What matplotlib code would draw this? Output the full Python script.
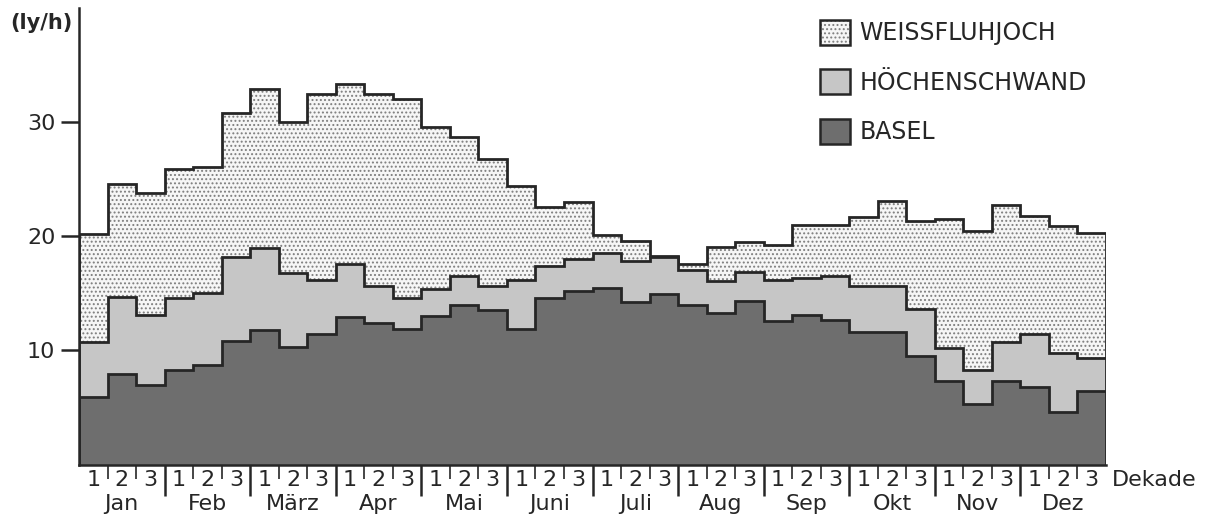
import numpy as np
import matplotlib.pyplot as plt
from matplotlib.patches import Patch

plt.rcParams['font.family'] = ['DejaVu Sans']
plt.rcParams['hatch.linewidth'] = 0.9

# mean irradiance per dekade (ly/h), three dekades per month
months = ['Jan', 'Feb', 'März', 'Apr', 'Mai', 'Juni',
          'Juli', 'Aug', 'Sep', 'Okt', 'Nov', 'Dez']
dekade_labels = ['1', '2', '3']

weissfluhjoch = [20.2, 24.6, 23.8, 25.9, 26.1, 30.8, 32.9, 30.0, 32.5, 33.3, 32.5, 32.0,
                 29.6, 28.7, 26.8, 24.4, 22.6, 23.0, 20.1, 19.6, 18.3, 17.6, 19.1, 19.5,
                 19.2, 21.0, 21.0, 21.7, 23.1, 21.3, 21.5, 20.5, 22.7, 21.8, 20.9, 20.3]
hoechenschwand = [10.7, 14.7, 13.1, 14.6, 15.0, 18.2, 19.0, 16.8, 16.2, 17.6, 15.6, 14.6,
                  15.4, 16.5, 15.6, 16.2, 17.4, 18.0, 18.5, 17.8, 18.2, 17.0, 16.1, 16.9,
                  16.2, 16.3, 16.5, 15.6, 15.6, 13.6, 10.2, 8.3, 10.7, 11.4, 9.8, 9.3]
basel = [5.9, 7.9, 7.0, 8.3, 8.7, 10.8, 11.8, 10.3, 11.4, 12.9, 12.4, 11.9,
         13.0, 14.0, 13.5, 11.9, 14.6, 15.2, 15.5, 14.2, 14.9, 14.0, 13.3, 14.3,
         12.6, 13.1, 12.7, 11.6, 11.6, 9.5, 7.3, 5.3, 7.3, 6.8, 4.6, 6.4]

ink = '#262626'
W, H = 1213, 514

fig = plt.figure(figsize=(W / 100, H / 100), dpi=100)
ax = fig.add_axes([79 / W, 49.5 / H, (1106 - 79) / W, (464.5 - 8) / H])

edges = np.arange(len(basel) + 1)

series = [
    ('WEISSFLUHJOCH', weissfluhjoch, dict(facecolor='#f6f6f6', edgecolor='#7e7e7e', hatch='....')),
    ('HÖCHENSCHWAND', hoechenschwand, dict(facecolor='#c6c6c6', edgecolor='#c6c6c6')),
    ('BASEL', basel, dict(facecolor='#6e6e6e', edgecolor='#6e6e6e')),
]

handles = []
for name, vals, style in series:
    ax.stairs(vals, edges, baseline=0, fill=True, linewidth=0, **style)
    ax.stairs(vals, edges, baseline=0, color=ink, linewidth=2.0)
    handles.append((Patch(linewidth=0, **style),
                    Patch(facecolor='none', edgecolor=ink, linewidth=1.8)))

ax.set_xlim(0, len(basel))
ax.set_ylim(0, 40)

for s in ['top', 'right']:
    ax.spines[s].set_visible(False)
for s in ['left', 'bottom']:
    ax.spines[s].set_linewidth(1.8)
    ax.spines[s].set_color(ink)

# y axis
ax.set_yticks([10, 20, 30])
ax.tick_params(axis='y', length=13, width=1.8, color=ink, labelsize=16,
               labelcolor=ink, pad=4)
ax.text(-0.006, 0.967, '(ly/h)', transform=ax.transAxes, ha='right', va='center',
        fontsize=15, color=ink, fontweight='bold')

# x axis: month separators long, dekade separators short
ax.set_xticks(np.arange(3, 36, 3))
ax.set_xticks([i for i in range(1, 36) if i % 3], minor=True)
ax.tick_params(axis='x', which='major', length=22, width=1.8, color=ink,
               labelbottom=False)
ax.tick_params(axis='x', which='minor', length=10, width=1.2, color=ink)

trans = ax.get_xaxis_transform()
for i in range(len(basel)):
    ax.text(i + 0.5, -15.5 / 456.5, dekade_labels[i % 3], transform=trans,
            ha='center', va='center', fontsize=16, color=ink)
for m, name in enumerate(months):
    ax.text(3 * m + 1.5, -39.5 / 456.5, name, transform=trans,
            ha='center', va='center', fontsize=16, color=ink)
ax.text(len(basel) + 0.2, -15.5 / 456.5, 'Dekade', transform=trans,
        ha='left', va='center', fontsize=16, color=ink)

ax.legend(handles, [s[0] for s in series], loc='upper left',
          bbox_to_anchor=(808 / W, 1 - 8 / H), bbox_transform=fig.transFigure,
          frameon=False, fontsize=17, handlelength=1.28, handleheight=1.25,
          handletextpad=0.4, labelspacing=1.02, borderpad=0,
          labelcolor=ink)

fig.savefig('out.png', dpi=100)
